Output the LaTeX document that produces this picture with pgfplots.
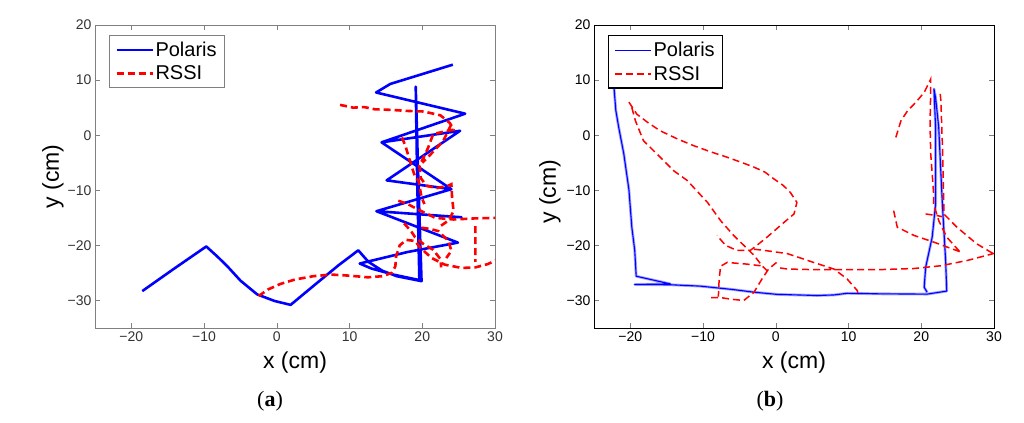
\documentclass[border=0pt]{standalone}
\usepackage{pgfplots}
\pgfplotsset{compat=1.18}
\usepackage{fontspec}
\setmainfont{Liberation Sans}
\newfontfamily\capfont{Liberation Serif}
\pgfplotsset{
 myaxis/.style={scale only axis, width=400bp, height=303bp,
  xmin=-25,xmax=30,ymin=-35,ymax=20,
  xtick={-20,-10,0,10,20,30}, xticklabels={−20,−10,0,10,20,30},
  ytick={-30,-20,-10,0,10,20}, yticklabels={−30,−20,−10,0,10,20},
  xtick pos=both, ytick pos=both, xticklabel pos=lower, yticklabel pos=left,
  tick align=inside, major tick length=5bp,
  ticklabel style={font=\fontsize{14bp}{16bp}\selectfont},
  xlabel={x (cm)}, ylabel={y (cm)},
  label style={font=\fontsize{23bp}{26bp}\selectfont},
  xlabel style={at={(axis description cs:0.5,-0.1155)}, anchor=center},
  ylabel style={at={(axis description cs:-0.105,0.5)}, anchor=center},
  unbounded coords=jump,
  legend cell align=left,
  legend image code/.code={\draw[##1] (0bp,0bp) -- (36bp,0bp);},
  legend style={at={(0,1)}, anchor=north west, xshift=14bp, yshift=-10bp, fill=white,
   font=\fontsize{20bp}{23bp}\selectfont, inner xsep=6bp, inner ysep=5bp, row sep=5bp,
   nodes={inner sep=1.5bp}},
 }
}
\begin{document}
\begin{tikzpicture}
\path[use as bounding box] (0,0) rectangle (1024bp,423bp);
% ---------------- panel (a)
\begin{axis}[myaxis, at={(95bp,95bp)}, anchor=south west,
  axis line style={gray}, every tick/.append style={gray},
  ticklabel style={color=black!80}, legend style={draw=gray, line width=0.8bp}]
\addplot[blue, line width=2.6bp, line join=round] coordinates {
(-18.5,-28.3) (-14.2,-24.3) (-9.7,-20.2) (-8.2,-22.0) (-6.8,-23.8) (-5.0,-26.4)
(-2.7,-28.9) (-0.3,-30.1) (1.9,-30.8) (5.0,-27.4) (8.5,-23.6) (11.2,-20.9)
(12.6,-23.0) (14.5,-24.6) (16.5,-25.6) (19.9,-26.5) (19.5,-10.0) (19.1,8.8)
(19.3,-8.0) (19.6,-26.3) (16.0,-25.3) (13.0,-24.2) (11.4,-23.3) (18.0,-21.2)
(24.9,-19.5) (13.7,-13.8) (25.4,-14.9) (13.7,-13.8) (24.0,-9.8) (15.1,-8.2)
(25.2,0.8) (14.4,-1.3) (24.0,-9.8) (14.4,-1.3) (25.9,3.9) (13.65,7.75)
(15.6,9.3) (24.2,12.8)
};
\addlegendentry{Polaris}
\addplot[red, line width=2.6bp, dash pattern=on 7bp off 4bp] coordinates {
(-2.5,-29.2) (-1.2,-28.0) (0.5,-27.0) (2.5,-26.2) (5,-25.6) (7.5,-25.3) (10,-25.5)
(12.5,-25.8) (14.5,-25.6) (15.8,-25.0) (16.3,-23.8) (16.4,-22.0) (16.9,-20.0)
(17.8,-19.0) (19.0,-19.2) (19.7,-20.4) (21.3,-22.3) (23.1,-23.5) (25.4,-24.1)
(27.3,-24.0) (29.0,-23.4) (30.5,-22.5)
(nan,nan)
(16.7,-11.9) (18.0,-12.5) (19.0,-13.2) (20.5,-14.2) (21.8,-15.0) (24.3,-15.3)
(27.3,-15.1) (30.5,-15.0)
(nan,nan)
(27.3,-16.5) (27.3,-19.5) (27.3,-23.0)
(nan,nan)
(8.7,5.5) (10.5,5.0) (12,5.1) (13.5,4.7) (15.6,4.6) (18,4.4) (20.2,4.3) (22.5,3.6)
(23.8,2.2) (24.3,1.0) (22.8,0.6) (21.5,0.2) (20.8,-2.3) (20.2,-4.0) (19.6,-5.5)
(19.8,-7.8) (20.6,-9.2) (22.0,-9.6) (23.5,-9.2) (24.0,-8.9) (24.1,-11.3)
(24.3,-13.8) (23.6,-15.5) (22.5,-16.5)
(nan,nan)
(17.2,-0.4) (17.7,-2.0) (18.1,-3.8) (18.6,-5.9) (19.0,-7.5) (19.5,-8.3)
(19.9,-11.3) (20.3,-12.5)
(nan,nan)
(19.9,-16.8) (21.0,-17.0) (22.2,-17.4) (23.6,-19.2) (24.0,-21.0) (23.3,-22.3)
(nan,nan)
(17.5,-16.0) (18.5,-17.5) (19.0,-18.5) (20.2,-19.8) (21.5,-20.8) (22.5,-22.5) (22.6,-24.0)
(nan,nan)
(24.0,2.0) (22.9,-1.0) (21.5,-3.0) (20.0,-5.0)
};
\addlegendentry{RSSI}
\end{axis}
% ---------------- panel (b)
\begin{axis}[myaxis, at={(594bp,95bp)}, anchor=south west,
  axis line style={black, line width=0.8bp},
  ylabel style={at={(axis description cs:-0.11,0.45)}},
  legend style={draw=black, line width=1.2bp}]
\addplot[blue!35, line width=2.8bp, line join=round, forget plot] coordinates {
(-22.4,11) (-22.2,7.8) (-22.0,4.5) (-21.6,1.4) (-20.9,-3.4) (-20.2,-9.9) (-19.8,-16.7)
(-19.4,-20.9) (-19.2,-25.6) (-14.5,-27.0) (-19.4,-27.1) (-14.5,-27.15) (-10.4,-27.4)
(-6,-28.0) (-3.0,-28.5) (0.2,-28.9) (5.7,-29.1) (8.0,-29.0) (9.8,-28.7) (14.4,-28.8)
(20.8,-28.85) (23.5,-28.3) (23.35,-22.8) (22.9,-12.5) (22.4,1.4) (21.97,6.8)
(21.74,8.4) (21.97,1.4) (21.97,-12.5) (21.5,-18.5) (20.6,-24.0) (20.4,-27.6) (20.8,-28.5)
};
\addplot[blue, line width=1.1bp, line join=round] coordinates {
(-22.4,11) (-22.2,7.8) (-22.0,4.5) (-21.6,1.4) (-20.9,-3.4) (-20.2,-9.9) (-19.8,-16.7)
(-19.4,-20.9) (-19.2,-25.6) (-14.5,-27.0) (-19.4,-27.1) (-14.5,-27.15) (-10.4,-27.4)
(-6,-28.0) (-3.0,-28.5) (0.2,-28.9) (5.7,-29.1) (8.0,-29.0) (9.8,-28.7) (14.4,-28.8)
(20.8,-28.85) (23.5,-28.3) (23.35,-22.8) (22.9,-12.5) (22.4,1.4) (21.97,6.8)
(21.74,8.4) (21.97,1.4) (21.97,-12.5) (21.5,-18.5) (20.6,-24.0) (20.4,-27.6) (20.8,-28.5)
};
\addlegendentry{Polaris}
\addplot[red, line width=1.5bp, dash pattern=on 7bp off 4bp] coordinates {
(-20.2,6.0) (-19.1,3.8) (-17.5,2.2) (-15.9,0.8) (-13.5,-0.7) (-11.3,-1.9) (-9,-3.0)
(-6.7,-4.0) (-4.8,-4.9) (-3.0,-5.8) (-1.5,-6.7) (-0.3,-7.9) (1.0,-9.1) (2.0,-10.4)
(2.9,-12.2) (2.5,-14.3) (0.8,-16.2) (-1.2,-18.5) (-2.6,-20.0) (-3.5,-20.9) (-5.4,-20.9)
(-6.9,-20.0) (-8.1,-18.2)
(nan,nan)
(-19.8,5.0) (-19.3,2.6) (-18.2,-1.0) (-15.9,-4.0) (-14,-6.5) (-12.2,-8.2) (-10.8,-10.2)
(-9.4,-12.2) (-7.6,-15.5) (-5.8,-18.2) (-4.4,-20.0) (-3.0,-21.8) (-1.9,-23.7) (-1.2,-24.6)
(nan,nan)
(-3.0,-20.7) (-1.65,-20.9) (1.6,-21.5) (5.2,-23.1) (8.0,-24.3) (9.8,-26.1) (11.2,-28.2) (11.3,-28.8)
(nan,nan)
(-2.1,-23.7) (-4.0,-23.4) (-6.7,-23.1) (-7.6,-23.8) (-7.8,-26.4) (-7.9,-29.3)
(nan,nan)
(-8.9,-29.5) (-7.5,-29.5) (-6,-29.8) (-4.4,-30.0) (-3.0,-28.5) (-1.9,-26.1) (-1.0,-24.3) (0.1,-23.1)
(nan,nan)
(0.6,-24.1) (1.6,-24.3) (5,-24.4) (8,-24.4) (14.4,-24.4) (19.0,-24.2) (22.7,-23.7)
(26.3,-22.75) (29.9,-21.5) (30.5,-21.3)
(nan,nan)
(16.5,-0.4) (17.2,2.6) (18.1,4.4) (19.2,5.9) (20.4,7.75) (21.3,10.2) (21.3,8.1) (21.2,2)
(21.3,-3.4) (21.5,-7) (21.7,-10.7) (21.7,-12.5) (22.4,-15.5) (23.5,-18.5) (25.4,-21.3)
(nan,nan)
(22.6,7.5) (22.7,6.25) (22.8,2) (22.9,-1.6) (23.0,-7) (23.1,-13.1) (23.1,-14.3)
(24.9,-16.7) (27.6,-19.7) (29.9,-21.5)
(nan,nan)
(20.6,-14.3) (22.2,-14.6) (22.9,-14.8)
(nan,nan)
(16.2,-13.7) (16.7,-16.7) (19.0,-18.2) (21.7,-19.4) (25.4,-21.2)
};
\addlegendentry{RSSI}
\end{axis}
\node[font=\capfont\fontsize{22bp}{24bp}\selectfont] at (270bp,22bp) {(\textbf{a})};
\node[font=\capfont\fontsize{22bp}{24bp}\selectfont] at (770bp,22bp) {(\textbf{b})};
\end{tikzpicture}
\end{document}
